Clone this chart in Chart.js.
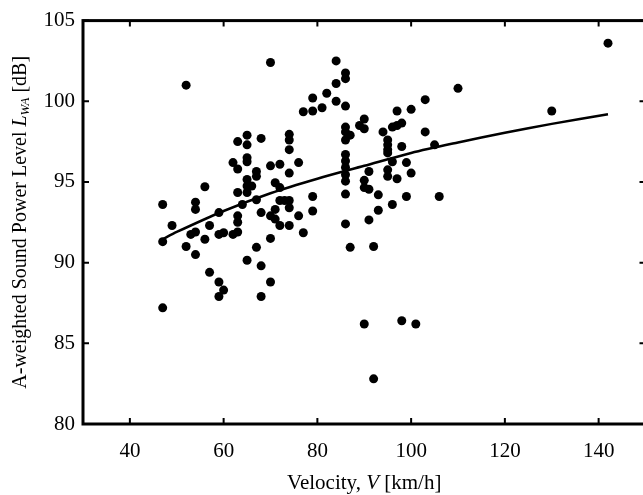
<!DOCTYPE html>
<html>
<head>
<meta charset="utf-8">
<script src="https://cdn.jsdelivr.net/npm/chart.js@4"></script>
<style>
    body { margin: 0; background: #fff; }
    #wrap { width: 643px; height: 495px; overflow: hidden; }
</style>
</head>
<body>
<div id="wrap"><canvas id="chart" width="650" height="495"></canvas></div>
<script>
// measured points (velocity km/h, LWA dB)
const velocity = [
    47, 47, 47, 49, 52, 52, 53, 54, 54, 54, 54, 56, 56, 57, 57, 59, 59, 59, 59, 60,
    60, 62, 62, 63, 63, 63, 63, 63, 63, 64, 65, 65, 65, 65, 65, 65, 65, 65, 66, 67,
    67, 67, 67, 68, 68, 68, 68, 70, 70, 70, 70, 70, 71, 71, 71, 72, 72, 72, 72, 73,
    74, 74, 74, 74, 74, 74, 74, 76, 76, 77, 77, 79, 79, 79, 79, 81, 82, 84, 84, 84,
    86, 86, 86, 86, 86, 87, 86, 86, 86, 86, 86, 86, 86, 86, 87, 89, 90, 90, 91, 90,
    90, 91, 91, 90, 92, 92, 93, 93, 94, 95, 95, 95, 95, 95, 95, 96, 96, 96, 97, 97,
    97, 98, 98, 98, 99, 99, 100, 100, 101, 103, 103, 105, 106, 110, 130, 142,
];
const soundLevel = [
    93.6, 91.3, 87.2, 92.3, 101.0, 91.0, 91.75, 91.9, 90.5, 93.75, 93.3, 94.7, 91.45, 92.3, 89.4, 93.1, 91.75, 88.8, 87.9, 91.85,
    88.3, 96.2, 91.75, 97.5, 95.8, 94.35, 92.9, 92.5, 91.9, 93.6, 97.9, 97.3, 96.5, 96.25, 95.15, 94.75, 94.35, 90.15, 94.75, 95.65,
    95.35, 93.9, 90.95, 97.7, 93.1, 89.8, 87.9, 102.4, 96.0, 92.9, 91.5, 88.8, 94.95, 93.3, 92.7, 96.1, 94.65, 93.85, 92.3, 93.85,
    97.95, 97.6, 97.0, 95.55, 93.85, 93.4, 92.3, 96.2, 92.9, 99.35, 91.85, 100.2, 99.4, 94.1, 93.2, 99.6, 100.5, 102.5, 101.1, 100.0,
    101.75, 101.4, 99.7, 98.4, 98.1, 97.9, 97.6, 96.7, 96.3, 95.9, 95.45, 95.05, 94.25, 92.4, 90.95, 98.5, 98.9, 98.3, 95.65, 95.1,
    94.65, 94.55, 92.65, 86.2, 91.0, 82.8, 94.2, 93.25, 98.1, 97.0, 96.8, 95.75, 95.35, 97.6, 97.3, 98.4, 96.25, 93.6, 99.4, 98.5,
    95.2, 98.65, 97.2, 86.4, 96.2, 94.1, 99.5, 95.55, 86.2, 100.1, 98.1, 97.3, 94.1, 100.8, 99.4, 103.6,
];

// fitted trend
const fitVelocity = [47, 50, 60, 70, 80, 90, 100, 110, 120, 130, 142];
const fitLevel = [91.45, 91.9, 93.2, 94.3, 95.2, 96.0, 96.8, 97.45, 98.05, 98.6, 99.2];

const xTicks = [40, 60, 80, 100, 120, 140];
const yTicks = [80, 85, 90, 95, 100, 105];

const serif = '"Liberation Serif", "Times New Roman", serif';

// draws text pieces (normal / italic / subscript) centred on x
function drawParts(ctx, parts, x, y) {
    let total = 0;
    parts.forEach(p => {
        ctx.font = (p.italic ? 'italic ' : '') + p.size + 'px ' + serif;
        p.w = ctx.measureText(p.text).width;
        total += p.w;
    });
    let cx = x - total / 2;
    parts.forEach(p => {
        ctx.font = (p.italic ? 'italic ' : '') + p.size + 'px ' + serif;
        ctx.fillText(p.text, cx, y + (p.sub ? 5 : 0));
        cx += p.w;
    });
}

const frame = {
    id: 'frame',
    afterDraw(chart) {
        const { ctx, chartArea: a, scales } = chart;
        ctx.save();
        ctx.strokeStyle = '#000';
        ctx.lineWidth = 3;
        ctx.strokeRect(a.left, a.top, a.right - a.left, a.bottom - a.top);

        // inward ticks on all four sides
        ctx.lineWidth = 2;
        ctx.beginPath();
        xTicks.forEach(v => {
            const px = scales.x.getPixelForValue(v);
            ctx.moveTo(px, a.bottom);
            ctx.lineTo(px, a.bottom - 6);
            ctx.moveTo(px, a.top);
            ctx.lineTo(px, a.top + 6);
        });
        yTicks.forEach(v => {
            const py = scales.y.getPixelForValue(v);
            ctx.moveTo(a.left, py);
            ctx.lineTo(a.left + 6, py);
            ctx.moveTo(a.right, py);
            ctx.lineTo(a.right - 6, py);
        });
        ctx.stroke();

        ctx.fillStyle = '#000';
        ctx.textBaseline = 'middle';
        drawParts(ctx, [
            { text: 'Velocity, ', size: 21 },
            { text: 'V', size: 21, italic: true },
            { text: ' [km/h]', size: 21 },
        ], (a.left + a.right) / 2, 483);

        ctx.translate(21, (a.top + a.bottom) / 2);
        ctx.rotate(-Math.PI / 2);
        drawParts(ctx, [
            { text: 'A-weighted Sound Power Level ', size: 20 },
            { text: 'L', size: 20, italic: true },
            { text: 'WA', size: 13, italic: true, sub: true },
            { text: ' [dB]', size: 20 },
        ], 0, 0);
        ctx.restore();
    },
};

new Chart(document.getElementById('chart'), {
    type: 'scatter',
    data: {
        datasets: [
            {
                label: 'Fit',
                type: 'line',
                data: fitVelocity.map((v, i) => ({ x: v, y: fitLevel[i] })),
                borderColor: '#000',
                borderWidth: 2.5,
                pointRadius: 0,
                tension: 0.3,
                fill: false,
            },
            {
                label: 'Measured',
                data: velocity.map((v, i) => ({ x: v, y: soundLevel[i] })),
                backgroundColor: '#000',
                borderWidth: 0,
                pointRadius: 4.5,
            },
        ],
    },
    options: {
        responsive: false,
        animation: false,
        layout: { padding: { top: 12, right: 3, bottom: 0, left: 0 } },
        plugins: {
            legend: { display: false },
            tooltip: { enabled: false },
        },
        scales: {
            x: {
                type: 'linear',
                min: 30,
                max: 150,
                afterBuildTicks: scale => {
                    scale.ticks = xTicks.map(v => ({ value: v }));
                },
                afterFit: scale => {
                    scale.height = 71;
                },
                grid: { display: false, drawTicks: false },
                border: { display: false },
                ticks: {
                    color: '#000',
                    padding: 15,
                    maxRotation: 0,
                    font: { family: serif, size: 21 },
                },
            },
            y: {
                min: 80,
                max: 105,
                afterBuildTicks: scale => {
                    scale.ticks = yTicks.map(v => ({ value: v }));
                },
                afterFit: scale => {
                    scale.width = 83;
                },
                grid: { display: false, drawTicks: false },
                border: { display: false },
                ticks: {
                    color: '#000',
                    padding: 8,
                    font: { family: serif, size: 21 },
                },
            },
        },
    },
    plugins: [frame],
});
</script>
</body>
</html>
